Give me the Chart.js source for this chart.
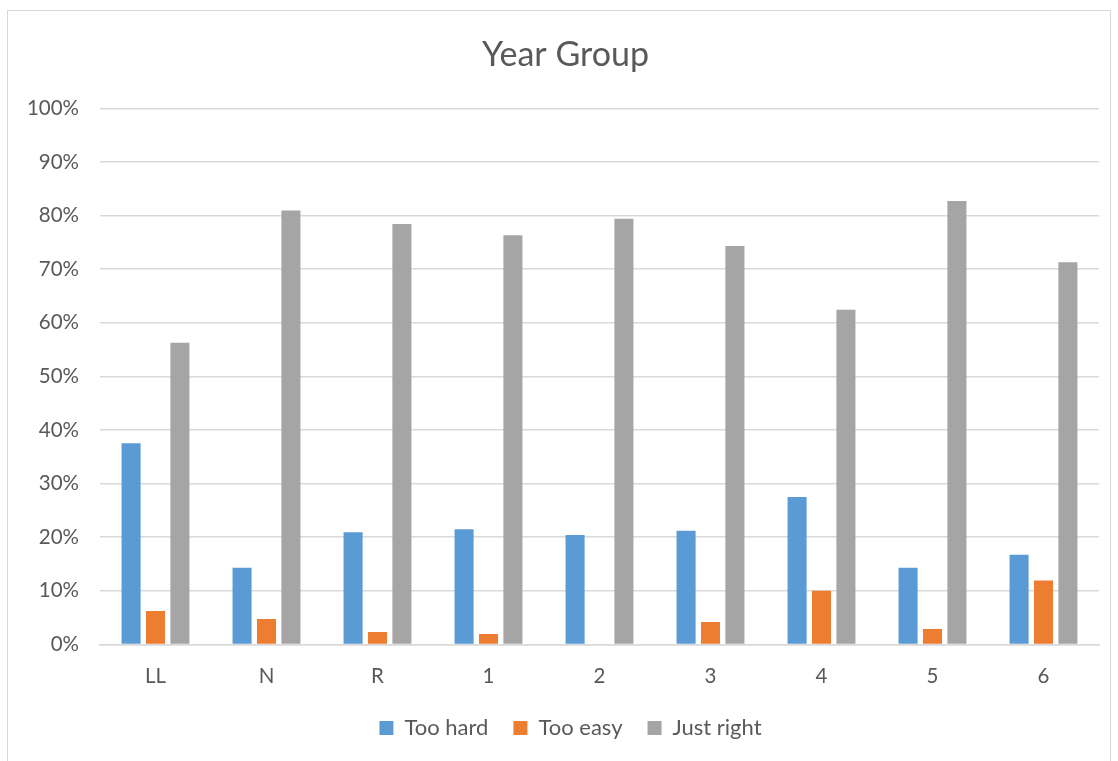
<!DOCTYPE html>
<html lang="en">
<head>
    <meta charset="UTF-8">
    <title>Year Group</title>
    <script src="https://cdn.jsdelivr.net/npm/chart.js"></script>
    <style>
        body { margin: 0; background: #fff; }
        #wrap {
            position: absolute; left: 7px; top: 10px;
            width: 1104px; height: 751px;
            border: 1px solid #d9d9d9; border-bottom: none;
            box-sizing: border-box;
        }
    </style>
</head>
<body>
    <div id="wrap"><canvas id="yearChart"></canvas></div>

    <script>
        // data (percent)
        const groups = ['LL', 'N', 'R', '1', '2', '3', '4', '5', '6'];
        const tooHard = [37.5, 14.3, 20.9, 21.5, 20.4, 21.2, 27.5, 14.3, 16.7];
        const tooEasy = [6.25, 4.76, 2.33, 1.96, 0, 4.2, 10.0, 2.86, 11.9];
        const justRight = [56.25, 80.95, 78.4, 76.3, 79.4, 74.3, 62.4, 82.7, 71.3];

        const textColor = '#595959';
        const gridColor = '#d9d9d9';
        const fontFamily = 'Lato, "Open Sans", sans-serif';

        // title and legend sit a bit right of centre in the original
        const nudge = {
            id: 'nudge',
            afterLayout(chart) {
                chart.legend.left += 17;
                chart.legend.right += 17;
                chart.titleBlock.left += 12;
                chart.titleBlock.right += 12;
            }
        };

        const ctx = document.getElementById('yearChart').getContext('2d');
        const yearChart = new Chart(ctx, {
            type: 'bar',
            data: {
                labels: groups,
                datasets: [
                    { label: 'Too hard', data: tooHard, backgroundColor: '#5B9BD5' },
                    { label: 'Too easy', data: tooEasy, backgroundColor: '#ED7D31' },
                    { label: 'Just right', data: justRight, backgroundColor: '#A5A5A5' }
                ]
            },
            options: {
                responsive: true,
                maintainAspectRatio: false,
                animation: false,
                categoryPercentage: 0.66,
                barPercentage: 0.78,
                layout: { padding: { left: 0, right: 11, top: 10, bottom: 12 } },
                scales: {
                    x: {
                        afterFit: (scale) => { scale.height -= 16; },
                        grid: { display: false, drawTicks: false },
                        border: { color: gridColor, width: 1.5 },
                        ticks: { color: textColor, font: { family: fontFamily, size: 20.5 }, padding: 19.5 }
                    },
                    y: {
                        min: 0,
                        max: 100,
                        afterFit: (scale) => { scale.width = 92; },
                        grid: { color: gridColor, lineWidth: 1.5, drawTicks: false },
                        border: { display: false },
                        ticks: {
                            stepSize: 10,
                            padding: 21,
                            color: textColor,
                            font: { family: fontFamily, size: 20.5 },
                            callback: (v) => v + '%'
                        }
                    }
                },
                plugins: {
                    title: {
                        display: true,
                        text: 'Year Group',
                        color: textColor,
                        font: { family: fontFamily, size: 34, weight: 'normal' },
                        padding: { top: 14, bottom: 32.5 }
                    },
                    legend: {
                        position: 'bottom',
                        labels: {
                            color: textColor,
                            boxWidth: 14,
                            boxHeight: 14,
                            padding: 25,
                            font: { family: fontFamily, size: 22 }
                        }
                    },
                    tooltip: { enabled: false }
                }
            },
            plugins: [nudge]
        });
    </script>
</body>
</html>
